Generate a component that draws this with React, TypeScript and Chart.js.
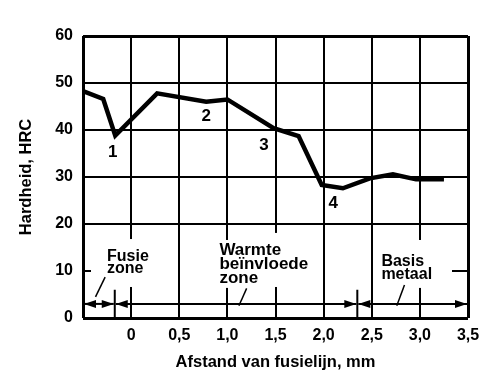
import React, { useEffect, useRef } from "react";
import { Chart, registerables } from "chart.js";

Chart.register(...registerables);

// ---- data ----
const distances = [-0.5, -0.29, -0.165, 0.27, 0.78, 1.0, 1.48, 1.74, 1.98, 2.2, 2.48, 2.72, 2.96, 3.25];
const hardness = [48.3, 46.6, 38.8, 47.8, 46.0, 46.5, 40.4, 38.7, 28.3, 27.6, 29.7, 30.6, 29.5, 29.5];

const xTickValues = [-0.5, 0, 0.5, 1.0, 1.5, 2.0, 2.5, 3.0, 3.5];
const yTickValues = [0, 10, 20, 30, 40, 50, 60];

const pointNames = ["1", "2", "3", "4"];
const pointNameX = [-0.19, 0.78, 1.38, 2.1];
const pointNameY = [35.3, 43.0, 36.8, 24.5];

const zoneBounds = [-0.5, -0.17, 2.35, 3.5];
const zoneArrowLevel = 3.0;
const zoneTexts = [["Fusie", "zone"], ["Warmte", "beïnvloede", "zone"], ["Basis", "metaal"]];
const zoneTextX = [-0.25, 0.917, 2.6];
const zoneTextY = [12.2, 13.3, 11.1];
const zoneLeaderFrom = [[-0.37, 4.5], [1.12, 2.6], [2.76, 2.6]];
const zoneLeaderTo = [[-0.27, 8.7], [1.2, 6.3], [2.84, 7.0]];

// gaps in vertical grid lines: [x, fromY, toY]
const gridGaps = [[0, 6.6, 16.8], [1.0, 6.4, 16.6], [1.5, 6.6, 18.1], [3.0, 6.4, 16.6]];

const FONT = "Liberation Sans";

const annotationPlugin = {
  id: "annotations",
  beforeDatasetsDraw(chart: any) {
    const { ctx, scales, chartArea } = chart;
    const xs = scales.x;
    const ys = scales.y;
    ctx.save();
    // gaps in vertical grid lines
    ctx.fillStyle = "#fff";
    gridGaps.forEach(([gx, y0, y1]) => {
      const px = xs.getPixelForValue(gx);
      const top = ys.getPixelForValue(y1);
      const bot = ys.getPixelForValue(y0);
      ctx.fillRect(px - 2, top, 4, bot - top);
    });
    // short marks at 10
    ctx.strokeStyle = "#000";
    ctx.lineWidth = 2;
    const p10 = ys.getPixelForValue(10);
    ctx.beginPath();
    ctx.moveTo(chartArea.left, p10);
    ctx.lineTo(chartArea.left + 8, p10);
    ctx.moveTo(chartArea.right - 16, p10);
    ctx.lineTo(chartArea.right, p10);
    ctx.stroke();
    // zone boundary ticks
    const p0 = ys.getPixelForValue(0);
    const pB = ys.getPixelForValue(6);
    ctx.beginPath();
    [zoneBounds[1], zoneBounds[2]].forEach((b) => {
      const px = xs.getPixelForValue(b);
      ctx.moveTo(px, p0);
      ctx.lineTo(px, pB);
    });
    ctx.stroke();
    ctx.restore();
  },
  afterDatasetsDraw(chart: any) {
    const { ctx, scales } = chart;
    const xs = scales.x;
    const ys = scales.y;
    ctx.save();
    ctx.fillStyle = "#000";
    ctx.strokeStyle = "#000";
    // zone arrows
    const ay = ys.getPixelForValue(zoneArrowLevel);
    const head = (tipX: number, dir: number) => {
      ctx.beginPath();
      ctx.moveTo(tipX, ay);
      ctx.lineTo(tipX - dir * 12, ay - 4);
      ctx.lineTo(tipX - dir * 12, ay + 4);
      ctx.closePath();
      ctx.fill();
    };
    ctx.lineWidth = 2;
    for (let i = 0; i < zoneBounds.length - 1; i++) {
      const a = xs.getPixelForValue(zoneBounds[i]) + 1;
      const b = xs.getPixelForValue(zoneBounds[i + 1]) - 1;
      ctx.beginPath();
      ctx.moveTo(a, ay);
      ctx.lineTo(b, ay);
      ctx.stroke();
      head(a, -1);
      head(b, 1);
    }
    // leaders
    ctx.lineWidth = 1.5;
    zoneLeaderFrom.forEach((f, i) => {
      const t = zoneLeaderTo[i];
      ctx.beginPath();
      ctx.moveTo(xs.getPixelForValue(f[0]), ys.getPixelForValue(f[1]));
      ctx.lineTo(xs.getPixelForValue(t[0]), ys.getPixelForValue(t[1]));
      ctx.stroke();
    });
    // zone texts
    ctx.textAlign = "left";
    ctx.textBaseline = "alphabetic";
    zoneTexts.forEach((lines, i) => {
      const size = i === 1 ? 17 : 16;
      const lh = i === 1 ? 14 : 12.8;
      ctx.font = `bold ${size}px "${FONT}"`;
      const x = xs.getPixelForValue(zoneTextX[i]);
      const y = ys.getPixelForValue(zoneTextY[i]);
      lines.forEach((ln, j) => ctx.fillText(ln, x, y + j * lh));
    });
    // point names
    ctx.font = `bold 17px "${FONT}"`;
    ctx.textAlign = "center";
    ctx.textBaseline = "middle";
    pointNames.forEach((n, i) => {
      ctx.fillText(n, xs.getPixelForValue(pointNameX[i]), ys.getPixelForValue(pointNameY[i]));
    });
    ctx.restore();
  },
};

const fmtX = (v: number) => {
  if (v < 0) return "";
  if (v === 0) return "0";
  return v.toFixed(1).replace(".", ",");
};

export default function App() {
  const ref = useRef<HTMLCanvasElement | null>(null);
  useEffect(() => {
    if (!ref.current) return;
    const chart = new Chart(ref.current, {
      type: "line",
      data: {
        datasets: [
          {
            data: distances.map((d, i) => ({ x: d, y: hardness[i] })),
            borderColor: "#000",
            borderWidth: 4.5,
            pointRadius: 0,
            tension: 0,
            fill: false,
          },
        ],
      },
      options: {
        responsive: false,
        animation: false,
        devicePixelRatio: 1,
        layout: { padding: { top: 36, right: 32, left: 0, bottom: 0 } },
        plugins: { legend: { display: false }, tooltip: { enabled: false } },
        scales: {
          x: {
            type: "linear",
            min: -0.5,
            max: 3.5,
            afterBuildTicks: (s: any) => {
              s.ticks = xTickValues.map((v) => ({ value: v }));
            },
            afterFit: (s: any) => {
              s.height = 65;
            },
            ticks: {
              callback: (v: any) => fmtX(Number(v)),
              font: { family: FONT, weight: "bold", size: 16 },
              color: "#000",
              padding: 8,
              maxRotation: 0,
              autoSkip: false,
            },
            grid: {
              color: "#000",
              lineWidth: (c: any) => (c.tick && (c.tick.value === -0.5 || c.tick.value === 3.5) ? 3 : 2),
              drawTicks: false,
            },
            border: { display: false },
            title: {
              display: true,
              text: "Afstand van fusielijn, mm",
              font: { family: FONT, weight: "bold", size: 16.5 },
              color: "#000",
              padding: { top: 0, bottom: 11 },
            },
          },
          y: {
            min: 0,
            max: 60,
            afterBuildTicks: (s: any) => {
              s.ticks = yTickValues.map((v) => ({ value: v }));
            },
            afterFit: (s: any) => {
              s.width = 83;
            },
            ticks: {
              font: { family: FONT, weight: "bold", size: 16 },
              color: "#000",
              padding: 10,
            },
            grid: {
              color: (c: any) => (c.tick && c.tick.value === 10 ? "rgba(0,0,0,0)" : "#000"),
              lineWidth: (c: any) => (c.tick && (c.tick.value === 0 || c.tick.value === 60) ? 3 : 2),
              drawTicks: false,
            },
            border: { display: false },
            title: {
              display: true,
              text: "Hardheid, HRC",
              font: { family: FONT, weight: "bold", size: 16.5 },
              color: "#000",
              padding: { top: 17, bottom: 0 },
            },
          },
        },
      },
      plugins: [annotationPlugin],
    } as any);
    return () => chart.destroy();
  }, []);
  return (
    <div style={{ position: "absolute", left: 0, top: 0, width: 500, height: 383, background: "#fff" }}>
      <canvas ref={ref} width={500} height={383} style={{ width: 500, height: 383 }} />
    </div>
  );
}
